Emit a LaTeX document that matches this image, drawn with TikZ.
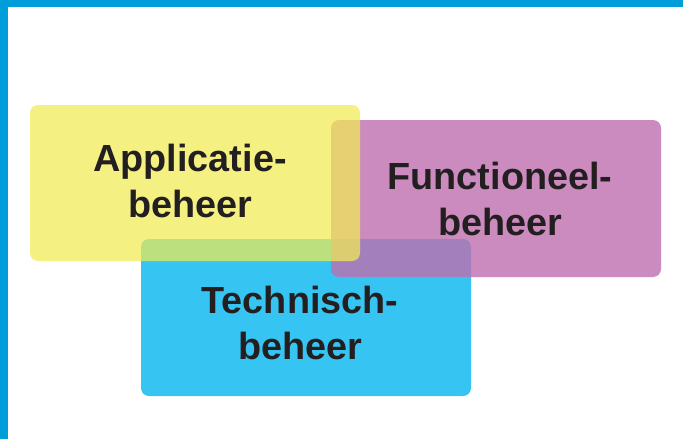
\documentclass[tikz,border=0pt]{standalone}
\usepackage{fontspec}
\setmainfont{Liberation Sans}
\definecolor{framec}{RGB}{0,157,219}
\definecolor{yelc}{RGB}{242,235,83}
\definecolor{magc}{RGB}{191,111,175}
\definecolor{bluc}{RGB}{54,197,242}
\definecolor{txtc}{RGB}{35,31,32}
\begin{document}
\begin{tikzpicture}[x=1pt,y=-1pt,
  panel/.style={rounded corners=8pt},
  lbl/.style={align=center,text=txtc,font=\fontsize{37.8}{46}\selectfont\bfseries,inner sep=0pt}]
\useasboundingbox (0,0) rectangle (683,439);
\fill[white] (0,0) rectangle (683,439);
\fill[framec] (0,0) rectangle (683,7);
\fill[framec] (0,0) rectangle (8,439);
\fill[bluc,panel] (141,239) rectangle (471,396);
\fill[magc,panel,opacity=0.8] (331,120) rectangle (661,277);
\fill[yelc,panel,opacity=0.72] (30,105) rectangle (360,261);
\node[lbl] (app) at (190,181) {Applicatie-\\beheer};
\node[lbl] (fun) at (500,199) {Functioneel-\\beheer};
\node[lbl] (tec) at (300,323) {Technisch-\\beheer};
\end{tikzpicture}
\end{document}
